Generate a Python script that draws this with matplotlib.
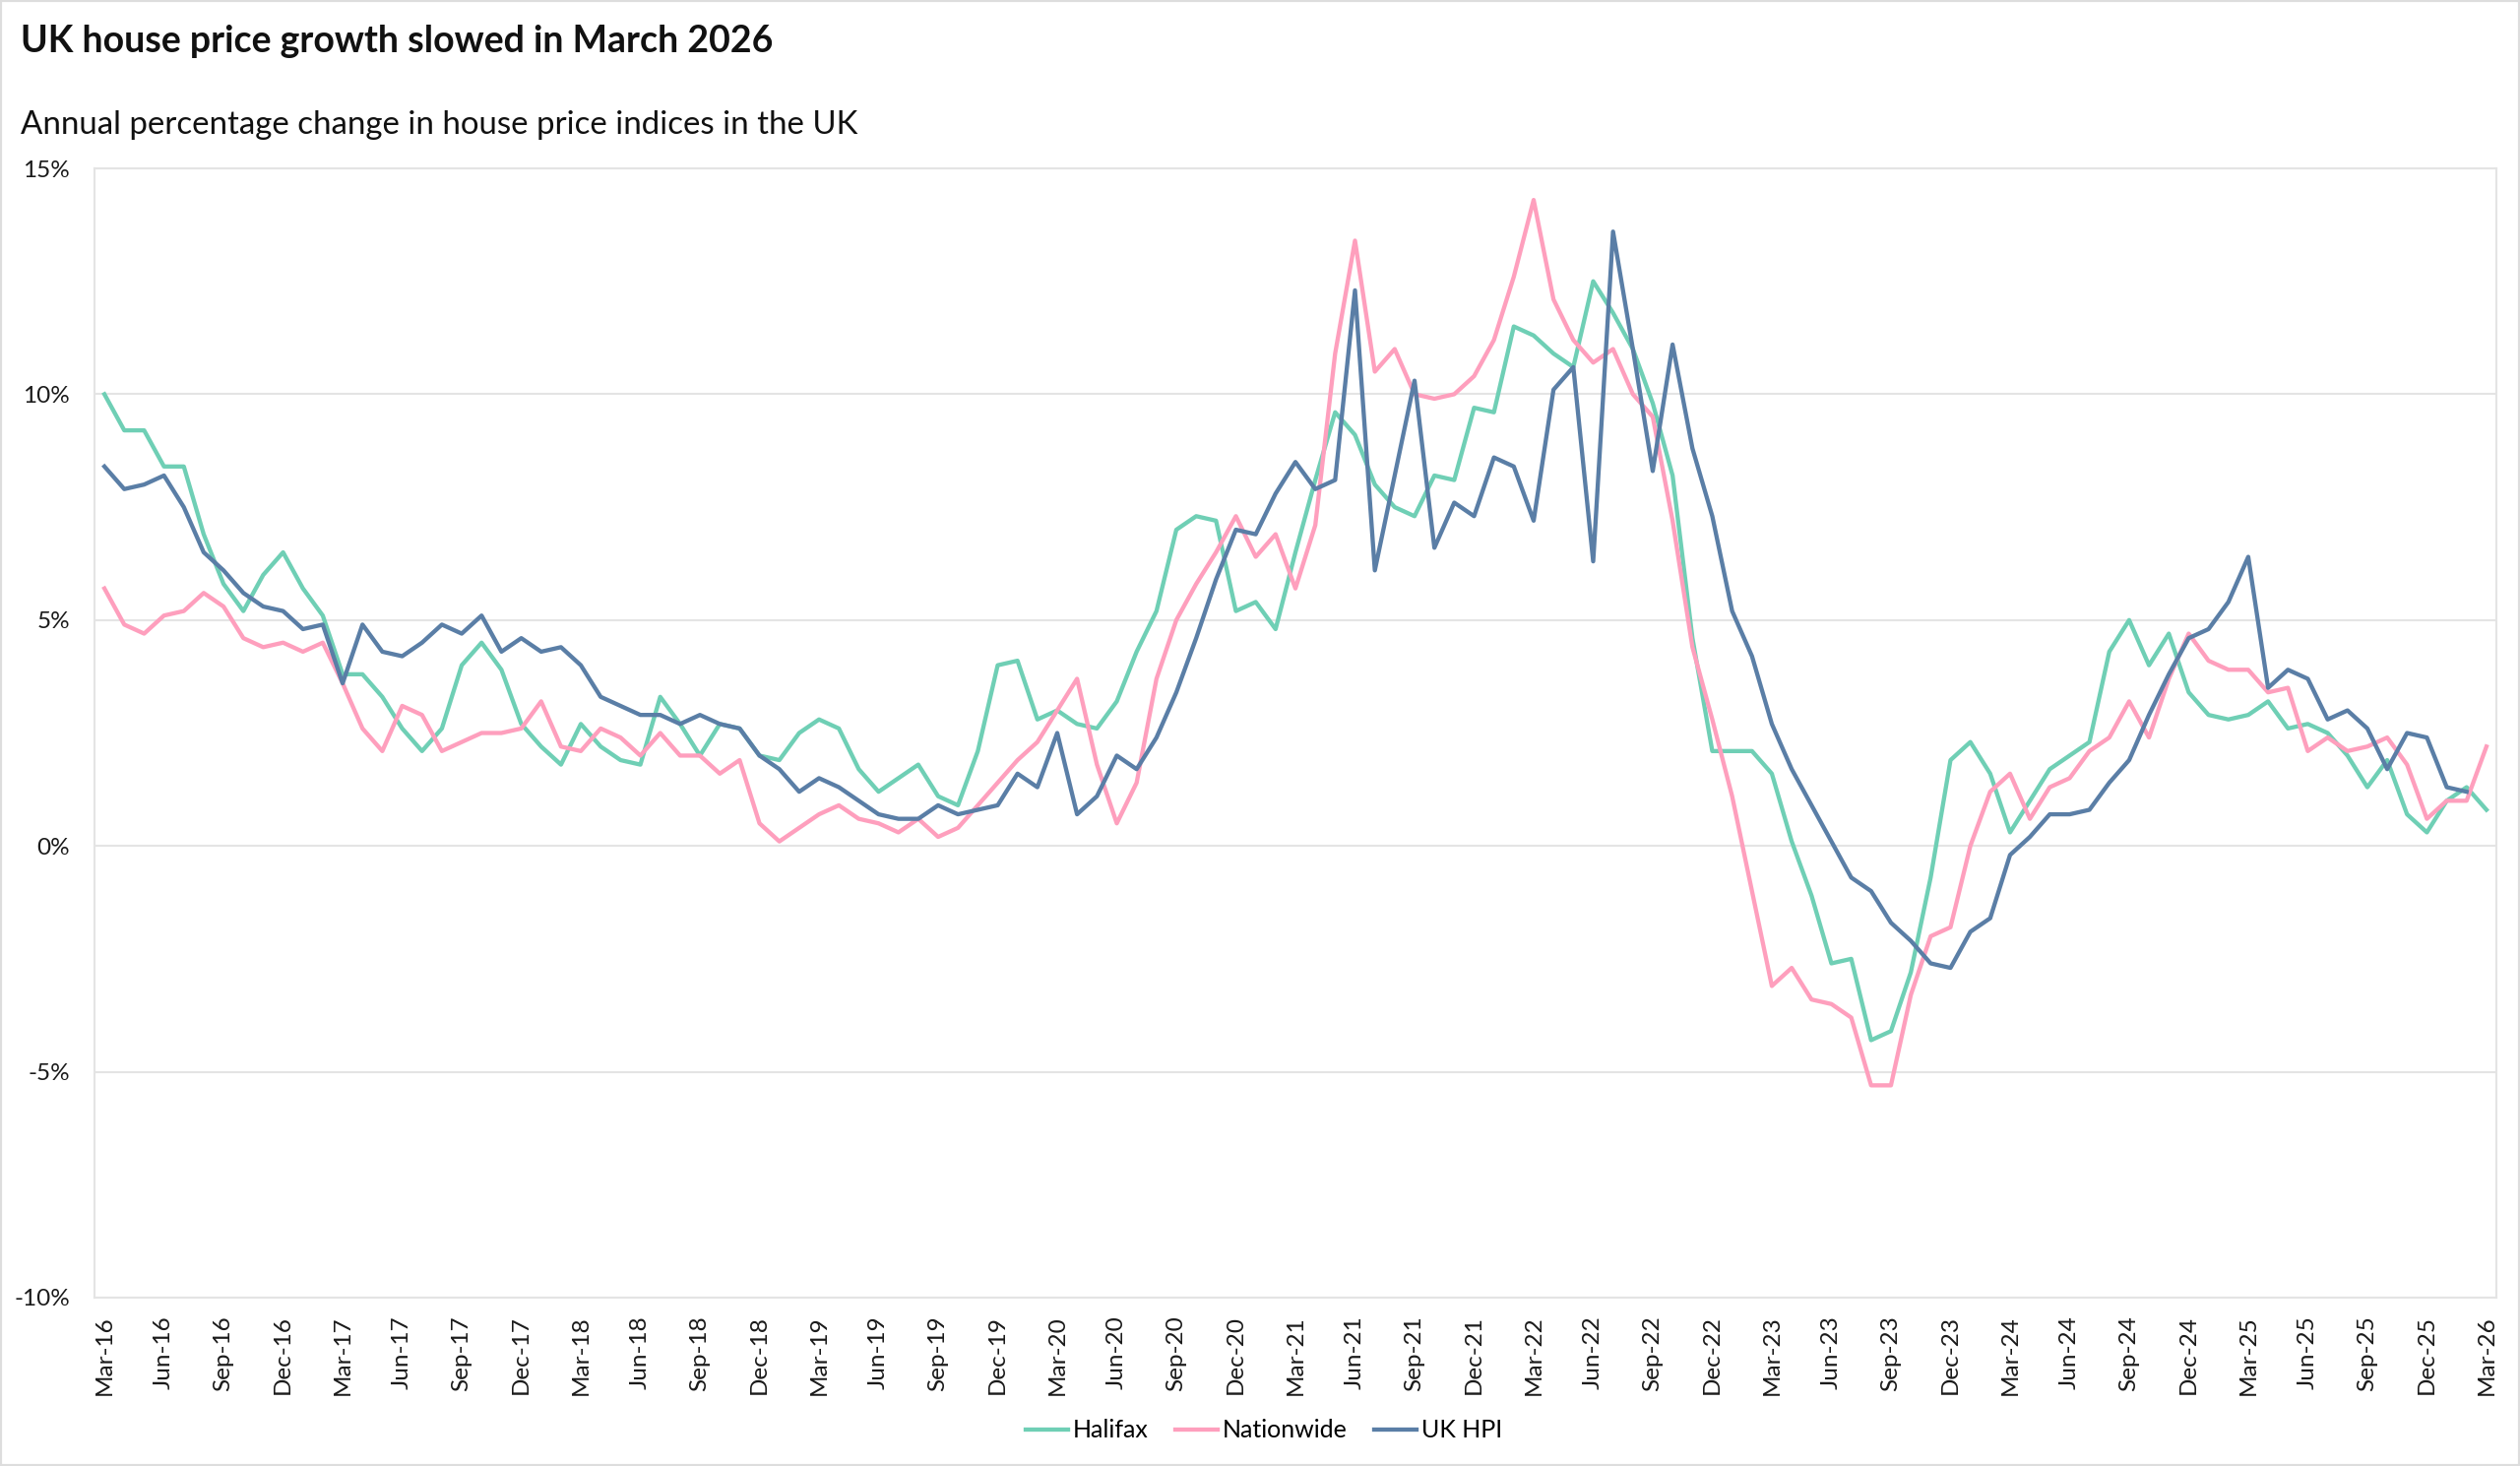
import numpy as np
import pandas as pd
import matplotlib
matplotlib.use("Agg")
import matplotlib.pyplot as plt
from matplotlib.patches import Rectangle

plt.rcParams['font.family'] = ['Lato', 'DejaVu Sans']

# ---- data -------------------------------------------------------------
dates = pd.date_range("2016-03-01", periods=121, freq="MS")
month_labels = [d.strftime("%b-%y") for d in dates]

halifax = [
    10.0, 9.2, 9.2, 8.4, 8.4, 6.9, 5.8, 5.2, 6.0, 6.5, 5.7, 5.1, 3.8, 3.8, 3.3, 2.6, 2.1, 2.6, 4.0, 4.5, 3.9, 2.7,
    2.2, 1.8, 2.7, 2.2, 1.9, 1.8, 3.3, 2.7, 2.0, 2.7, 2.6, 2.0, 1.9, 2.5, 2.8, 2.6, 1.7, 1.2, 1.5, 1.8,
    1.1, 0.9, 2.1, 4.0, 4.1, 2.8, 3.0, 2.7, 2.6, 3.2, 4.3, 5.2, 7.0, 7.3, 7.2, 5.2, 5.4, 4.8, 6.5, 8.1,
    9.6, 9.1, 8.0, 7.5, 7.3, 8.2, 8.1, 9.7, 9.6, 11.5, 11.3, 10.9, 10.6, 12.5, 11.8, 11.0, 9.8, 8.2, 4.6, 2.1,
    2.1, 2.1, 1.6, 0.1, -1.1, -2.6, -2.5, -4.3, -4.1, -2.8, -0.7, 1.9, 2.3, 1.6, 0.3, 1.0, 1.7, 2.0, 2.3, 4.3,
    5.0, 4.0, 4.7, 3.4, 2.9, 2.8, 2.9, 3.2, 2.6, 2.7, 2.5, 2.0, 1.3, 1.9, 0.7, 0.3, 1.0, 1.3, 0.8,
]

nationwide = [
    5.7, 4.9, 4.7, 5.1, 5.2, 5.6, 5.3, 4.6, 4.4, 4.5, 4.3, 4.5, 3.6, 2.6, 2.1, 3.1, 2.9, 2.1, 2.3, 2.5, 2.5, 2.6,
    3.2, 2.2, 2.1, 2.6, 2.4, 2.0, 2.5, 2.0, 2.0, 1.6, 1.9, 0.5, 0.1, 0.4, 0.7, 0.9, 0.6, 0.5, 0.3, 0.6,
    0.2, 0.4, 0.9, 1.4, 1.9, 2.3, 3.0, 3.7, 1.8, 0.5, 1.4, 3.7, 5.0, 5.8, 6.5, 7.3, 6.4, 6.9, 5.7, 7.1,
    10.9, 13.4, 10.5, 11.0, 10.0, 9.9, 10.0, 10.4, 11.2, 12.6, 14.3, 12.1, 11.2, 10.7, 11.0, 10.0, 9.5, 7.2, 4.4, 2.8,
    1.1, -1.0, -3.1, -2.7, -3.4, -3.5, -3.8, -5.3, -5.3, -3.3, -2.0, -1.8, 0.0, 1.2, 1.6, 0.6, 1.3, 1.5, 2.1, 2.4,
    3.2, 2.4, 3.7, 4.7, 4.1, 3.9, 3.9, 3.4, 3.5, 2.1, 2.4, 2.1, 2.2, 2.4, 1.8, 0.6, 1.0, 1.0, 2.2,
]

uk_hpi = [
    8.4, 7.9, 8.0, 8.2, 7.5, 6.5, 6.1, 5.6, 5.3, 5.2, 4.8, 4.9, 3.6, 4.9, 4.3, 4.2, 4.5, 4.9, 4.7, 5.1, 4.3, 4.6,
    4.3, 4.4, 4.0, 3.3, 3.1, 2.9, 2.9, 2.7, 2.9, 2.7, 2.6, 2.0, 1.7, 1.2, 1.5, 1.3, 1.0, 0.7, 0.6, 0.6,
    0.9, 0.7, 0.8, 0.9, 1.6, 1.3, 2.5, 0.7, 1.1, 2.0, 1.7, 2.4, 3.4, 4.6, 5.9, 7.0, 6.9, 7.8, 8.5, 7.9,
    8.1, 12.3, 6.1, 8.2, 10.3, 6.6, 7.6, 7.3, 8.6, 8.4, 7.2, 10.1, 10.6, 6.3, 13.6, 11.0, 8.3, 11.1, 8.8, 7.3,
    5.2, 4.2, 2.7, 1.7, 0.9, 0.1, -0.7, -1.0, -1.7, -2.1, -2.6, -2.7, -1.9, -1.6, -0.2, 0.2, 0.7, 0.7, 0.8, 1.4,
    1.9, 2.9, 3.8, 4.6, 4.8, 5.4, 6.4, 3.5, 3.9, 3.7, 2.8, 3.0, 2.6, 1.7, 2.5, 2.4, 1.3, 1.2, np.nan,
]

series_names = ["Halifax", "Nationwide", "UK HPI"]
series_colors = ["#6fcfb5", "#fe9fbd", "#5a7ea6"]
y_ticks = [-10, -5, 0, 5, 10, 15]

title = "UK house price growth slowed in March 2026"
subtitle = "Annual percentage change in house price indices in the UK"

# ---- figure -----------------------------------------------------------
W, H = 2560, 1489
fig = plt.figure(figsize=(W / 100, H / 100), dpi=100)
ax = fig.add_axes([96 / W, 1 - 1318 / H, (2536 - 96) / W, (1318 - 171) / H])

x = np.arange(len(dates))
handles = []
for vals, name, col in zip([halifax, nationwide, uk_hpi], series_names, series_colors):
    (ln,) = ax.plot(x, vals, color=col, lw=3.1, label=name, solid_joinstyle="round")
    handles.append(ln)

ax.set_xlim(-0.5, len(dates) - 0.5)
ax.set_ylim(-10, 15)
ax.set_yticks(y_ticks)
ax.set_yticklabels([f"{v}%" for v in y_ticks])
tick_pos = x[::3]
ax.set_xticks(tick_pos)
ax.set_xticklabels([month_labels[i] for i in tick_pos], rotation=90)
ax.tick_params(axis="both", length=0, labelsize=17.5, colors="#1a1a1a")
ax.tick_params(axis="y", pad=18)
ax.tick_params(axis="x", pad=13)
ax.grid(axis="y", color="#e4e4e4", lw=1.5)
ax.set_axisbelow(True)
for s in ax.spines.values():
    s.set_color("#e4e4e4")
    s.set_linewidth(1.5)

fig.text(21 / W, 1 - 42 / H, title, ha="left", va="center", fontsize=27, fontweight="bold", color="#111111")
fig.text(21 / W, 1 - 127 / H, subtitle, ha="left", va="center", fontsize=23.8, color="#111111")

fig.legend(handles=handles, loc="center", bbox_to_anchor=(1284 / W, 1 - 1453 / H), ncol=3,
           frameon=False, fontsize=18, handlelength=1.7, handletextpad=0.2, columnspacing=1.1)

fig.patches.append(Rectangle((0, 0), 1, 1, transform=fig.transFigure, fill=False,
                             edgecolor="#dddddd", lw=3))

fig.savefig("out.png", dpi=100)
